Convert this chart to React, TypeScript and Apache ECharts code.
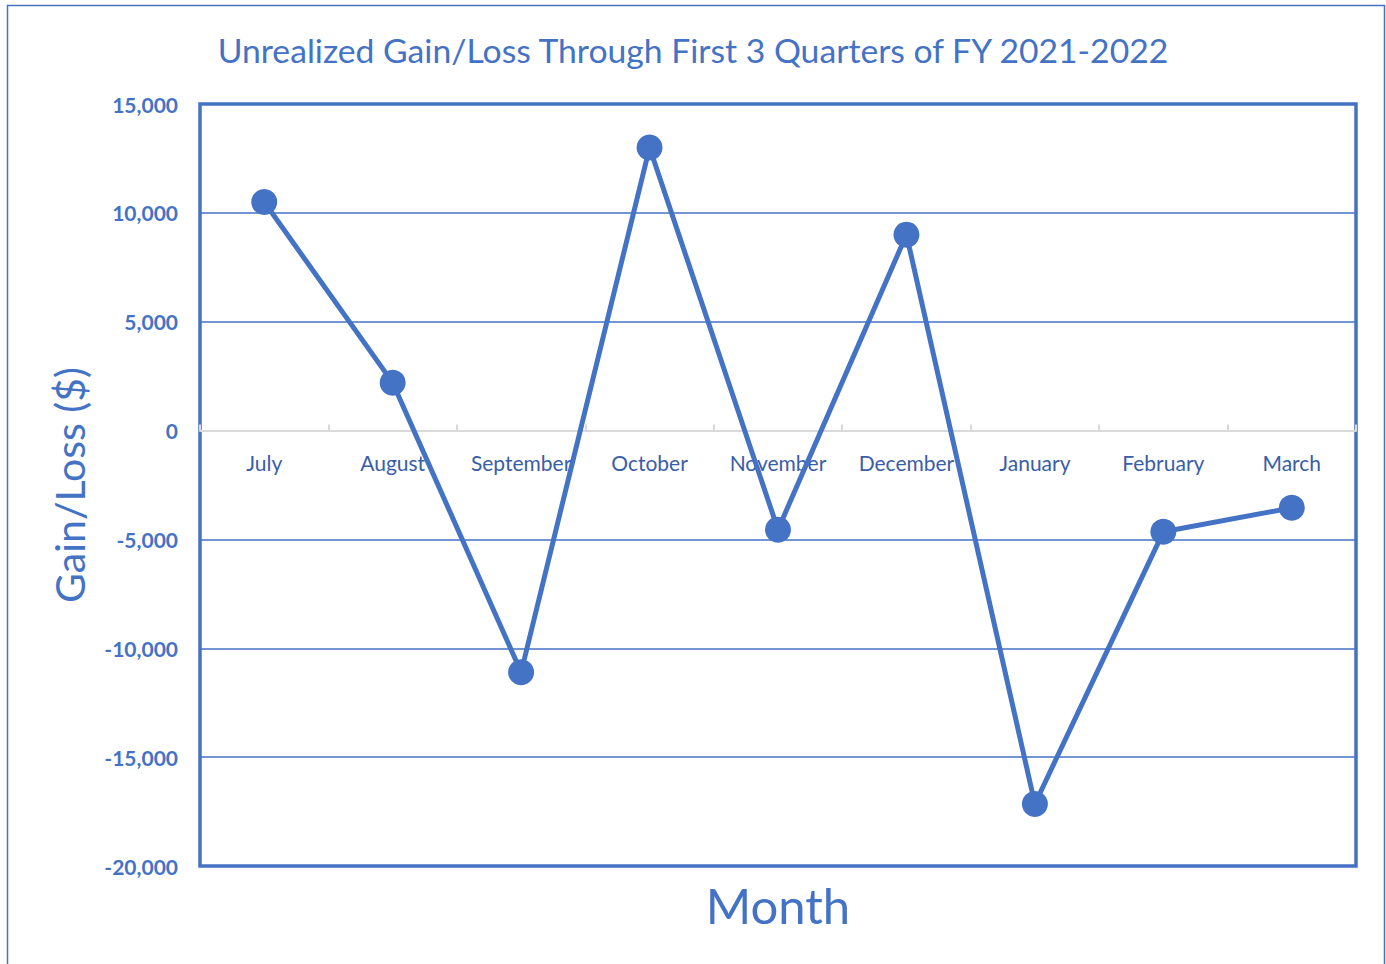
import React, { useEffect, useRef } from "react";
import * as echarts from "echarts";

const months = ["July", "August", "September", "October", "November", "December", "January", "February", "March"];
const gainLoss = [10500, 2200, -11100, 13000, -4550, 9000, -17150, -4650, -3550];
const yTicks = [-20000, -15000, -10000, -5000, 0, 5000, 10000, 15000];

const BLUE = "#4472C4";
const FONT = "Lato, 'Open Sans', sans-serif";

export default function App() {
  const ref = useRef<HTMLDivElement>(null);
  useEffect(() => {
    const chart = echarts.init(ref.current!, undefined, { renderer: "svg" });
    chart.setOption({
      animation: false,
      textStyle: { fontFamily: FONT },
      title: {
        text: "Unrealized Gain/Loss Through First 3 Quarters of FY 2021-2022",
        left: "center",
        top: 28,
        textStyle: { color: BLUE, fontSize: 33.7, fontWeight: "normal", fontFamily: FONT },
      },
      graphic: [
        {
          type: "rect",
          shape: { x: 7.5, y: 5.5, width: 1377, height: 980 },
          style: { fill: "none", stroke: BLUE, lineWidth: 1.5 },
          silent: true,
        },
      ],
      grid: {
        left: 200,
        right: 30,
        top: 104,
        bottom: 98,
        show: true,
        borderColor: BLUE,
        borderWidth: 3.5,
        backgroundColor: "transparent",
        containLabel: false,
        outerBoundsMode: "none",
      },
      xAxis: [
        {
          type: "category",
          data: months,
          boundaryGap: true,
          position: "bottom",
          name: "Month",
          nameLocation: "middle",
          nameGap: 14,
          nameMoveOverlap: false,
          nameTextStyle: { color: BLUE, fontSize: 49, fontFamily: FONT, verticalAlign: "top" },
          axisLine: { show: false, onZero: false },
          axisTick: { show: false },
          axisLabel: { color: "#3A5DA8", fontSize: 21, margin: -414, interval: 0, fontFamily: FONT, verticalAlign: "top" },
          splitLine: { show: false },
        },
        {
          type: "category",
          data: months,
          boundaryGap: true,
          position: "bottom",
          axisLine: { show: true, onZero: true, lineStyle: { color: "#d9d9d9", width: 2 } },
          axisTick: { show: true, inside: true, length: 6, lineStyle: { color: "#d9d9d9", width: 2 } },
          axisLabel: { show: false },
          splitLine: { show: false },
        },
      ],
      yAxis: {
        type: "value",
        min: yTicks[0],
        max: yTicks[yTicks.length - 1],
        interval: 5000,
        name: "Gain/Loss ($)",
        nameLocation: "middle",
        nameGap: 110,
        nameTextStyle: { color: BLUE, fontSize: 41, fontFamily: FONT },
        axisLine: { show: false },
        axisTick: { show: false },
        axisLabel: {
          color: BLUE,
          fontSize: 21,
          fontWeight: "bold",
          margin: 22,
          fontFamily: FONT,
          formatter: (v: number) => v.toLocaleString("en-US"),
        },
        splitLine: {
          show: true,
          lineStyle: {
            color: yTicks.map((t) => (t === 0 ? "rgba(0,0,0,0)" : BLUE)),
            width: 1.5,
          },
        },
      },
      series: [
        {
          type: "line",
          xAxisIndex: 0,
          data: gainLoss,
          symbol: "circle",
          symbolSize: 26,
          lineStyle: { color: BLUE, width: 5 },
          itemStyle: { color: BLUE },
          z: 5,
        },
      ],
    });
    return () => chart.dispose();
  }, []);
  return <div ref={ref} style={{ position: "fixed", left: 0, top: 0, width: 1386, height: 964, background: "#fff" }} />;
}
